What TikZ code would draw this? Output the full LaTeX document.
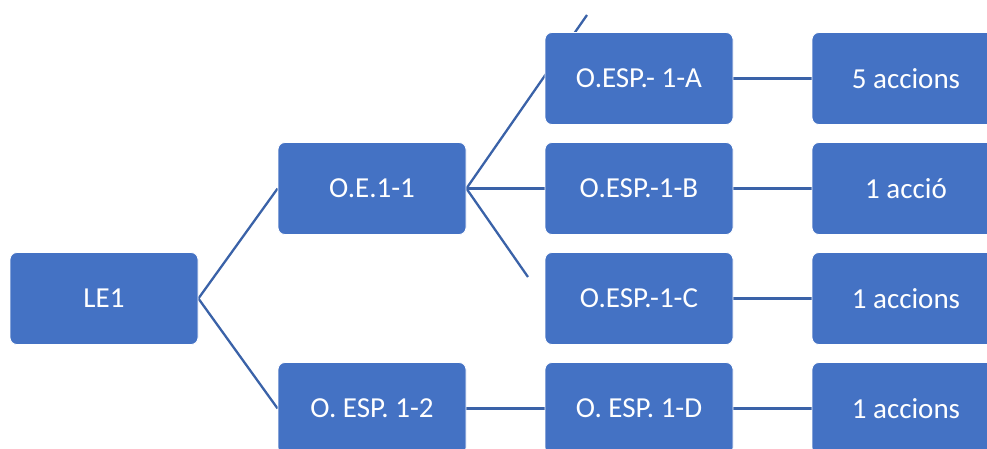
\documentclass[tikz,border=0pt]{standalone}
\usepackage{fontspec}
\setmainfont{Carlito}
\usetikzlibrary{backgrounds}
\definecolor{boxblue}{HTML}{4472C4}
\definecolor{lineblue}{HTML}{3A62A8}
\begin{document}
\begin{tikzpicture}[x=1pt,y=-1pt,
  box/.style={fill=boxblue, draw=white, line width=0.8pt, rounded corners=7pt,
    minimum width=188pt, minimum height=92pt, inner sep=0pt, text=white,
    font=\fontsize{29}{32}\selectfont},
  link/.style={draw=lineblue, line width=2.3pt}]
\useasboundingbox (0,0) rectangle (987,448);
\node[box] (le1) at (104,298.5) {LE1};
\node[box] (oe11) at (372,188.5) {O.E.1-1};
\node[box] (a) at (639,78.5) {O.ESP.- 1-A};
\node[box] (b) at (639,188.5) {O.ESP.-1-B};
\node[box] (c) at (639,298.5) {O.ESP.-1-C};
\node[box] (oe12) at (372,408.5) {O. ESP. 1-2};
\node[box] (d) at (639,408.5) {O. ESP. 1-D};
\node[box] (a4) at (906,78.5) {5 accions};
\node[box] (b4) at (906,188.5) {1 acció};
\node[box] (c4) at (906,298.5) {1 accions};
\node[box] (d4) at (906,408.5) {1 accions};
\begin{scope}[on background layer]
\coordinate (topend) at (587,15);
\coordinate (cend) at (528,277);
\draw[link] (le1.east) -- (oe11.west);
\draw[link] (le1.east) -- (oe12.west);
\draw[link] (oe11.east) -- (topend);
\draw[link] (oe11.east) -- (b.west);
\draw[link] (oe11.east) -- (cend);
\draw[link] (oe12.east) -- (d.west);
\draw[link] (a.east) -- (a4.west);
\draw[link] (b.east) -- (b4.west);
\draw[link] (c.east) -- (c4.west);
\draw[link] (d.east) -- (d4.west);
\end{scope}
\end{tikzpicture}
\end{document}
